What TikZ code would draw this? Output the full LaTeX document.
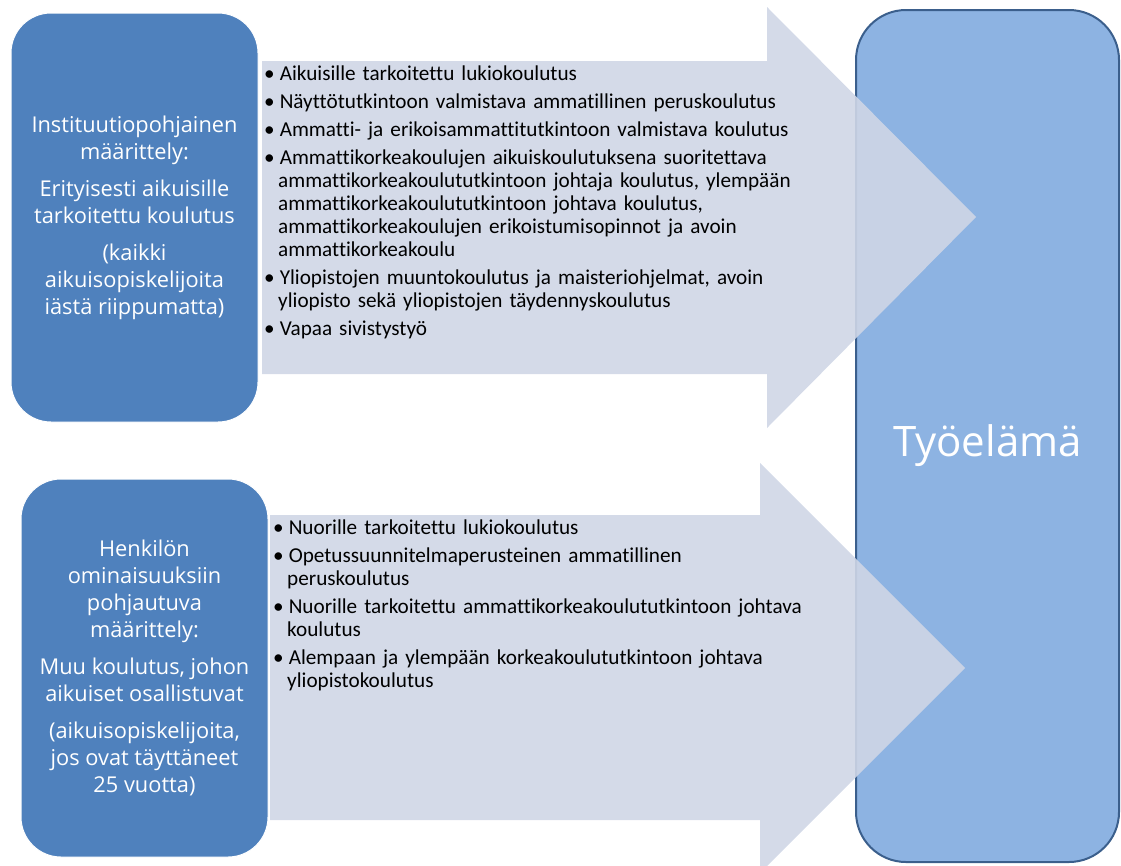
\documentclass[tikz,border=0pt]{standalone}
\usepackage{fontspec}
\setmainfont{Carlito}[Ligatures=NoCommon]
\newfontfamily\boxfont{Open Sans}
\usepackage{enumitem}
\usetikzlibrary{positioning}
\definecolor{sideblue}{HTML}{4F81BD}
\definecolor{workblue}{HTML}{8DB3E2}
\definecolor{workline}{HTML}{3B5F8C}
\definecolor{arrowgrey}{RGB}{207,214,230}
\tikzset{
  sidebox/.style={rounded corners=40pt, fill=sideblue, draw=white, line width=1pt,
    minimum width=247pt, text=white, align=center,
    font=\boxfont\fontsize{21.8}{27}\selectfont},
  bigarrow/.style={fill=arrowgrey, fill opacity=0.9, draw=none},
  listbox/.style={anchor=north west, inner sep=0pt, text width=560pt,
    font=\fontsize{21.2}{23}\selectfont}
}
\newenvironment{kohdat}{\raggedright\begin{itemize}[leftmargin=14pt, labelwidth=9pt, labelsep=5pt,
  align=left, itemsep=5pt, topsep=0pt, parsep=0pt, partopsep=0pt]}{\end{itemize}}
\begin{document}
\begin{tikzpicture}[x=1pt,y=-1pt]
  \useasboundingbox (0,0) rectangle (1121,865);
  % tyoelama
  \node[rounded corners=50pt, fill=workblue, draw=workline, line width=2pt,
    minimum width=263pt, minimum height=852pt] (work) at (987.5,436) {};
  \node[text=white, font=\boxfont\fontsize{42}{50}\selectfont] (worktext)
    at ([yshift=-10pt]work.center) {Työelämä};
  % nuolet
  \draw[bigarrow] (262,61) -- (767,61) -- (767,7) -- (976,217) -- (767,428)
    -- (767,374) -- (262,374) -- cycle;
  \draw[bigarrow] (270,515) -- (760,515) -- (760,463) -- (965,668) -- (760,873)
    -- (760,820) -- (270,820) -- cycle;
  % vasemmat laatikot
  \node[sidebox, minimum height=409pt] (inst) at (134.5,217.5)
    {Instituutiopohjainen\\määrittely:\\[10pt]Erityisesti aikuisille\\tarkoitettu koulutus\\[10pt](kaikki\\aikuisopiskelijoita\\iästä riippumatta)};
  \node[sidebox, minimum height=378pt] (henk) at (144.5,668)
    {Henkilön\\ominaisuuksiin\\pohjautuva\\määrittely:\\[10pt]Muu koulutus, johon\\aikuiset osallistuvat\\[10pt](aikuisopiskelijoita,\\jos ovat täyttäneet\\25 vuotta)};
  % listat
  \node[listbox] (instlist) at (264,57) {\begin{kohdat}
    \item Aikuisille tarkoitettu lukiokoulutus
    \item Näyttötutkintoon valmistava ammatillinen peruskoulutus
    \item Ammatti- ja erikoisammattitutkintoon valmistava koulutus
    \item Ammattikorkeakoulujen aikuiskoulutuksena suoritettava\newline
      ammattikorkeakoulututkintoon johtaja koulutus, ylempään\newline
      ammattikorkeakoulututkintoon johtava koulutus,\newline
      ammattikorkeakoulujen erikoistumisopinnot ja avoin\newline
      ammattikorkeakoulu
    \item Yliopistojen muuntokoulutus ja maisteriohjelmat, avoin\newline
      yliopisto sekä yliopistojen täydennyskoulutus
    \item Vapaa sivistystyö
  \end{kohdat}};
  \node[listbox] (henklist) at (273,511) {\begin{kohdat}
    \item Nuorille tarkoitettu lukiokoulutus
    \item Opetussuunnitelmaperusteinen ammatillinen\newline peruskoulutus
    \item Nuorille tarkoitettu ammattikorkeakoulututkintoon johtava\newline koulutus
    \item Alempaan ja ylempään korkeakoulututkintoon johtava\newline yliopistokoulutus
  \end{kohdat}};
\end{tikzpicture}
\end{document}
